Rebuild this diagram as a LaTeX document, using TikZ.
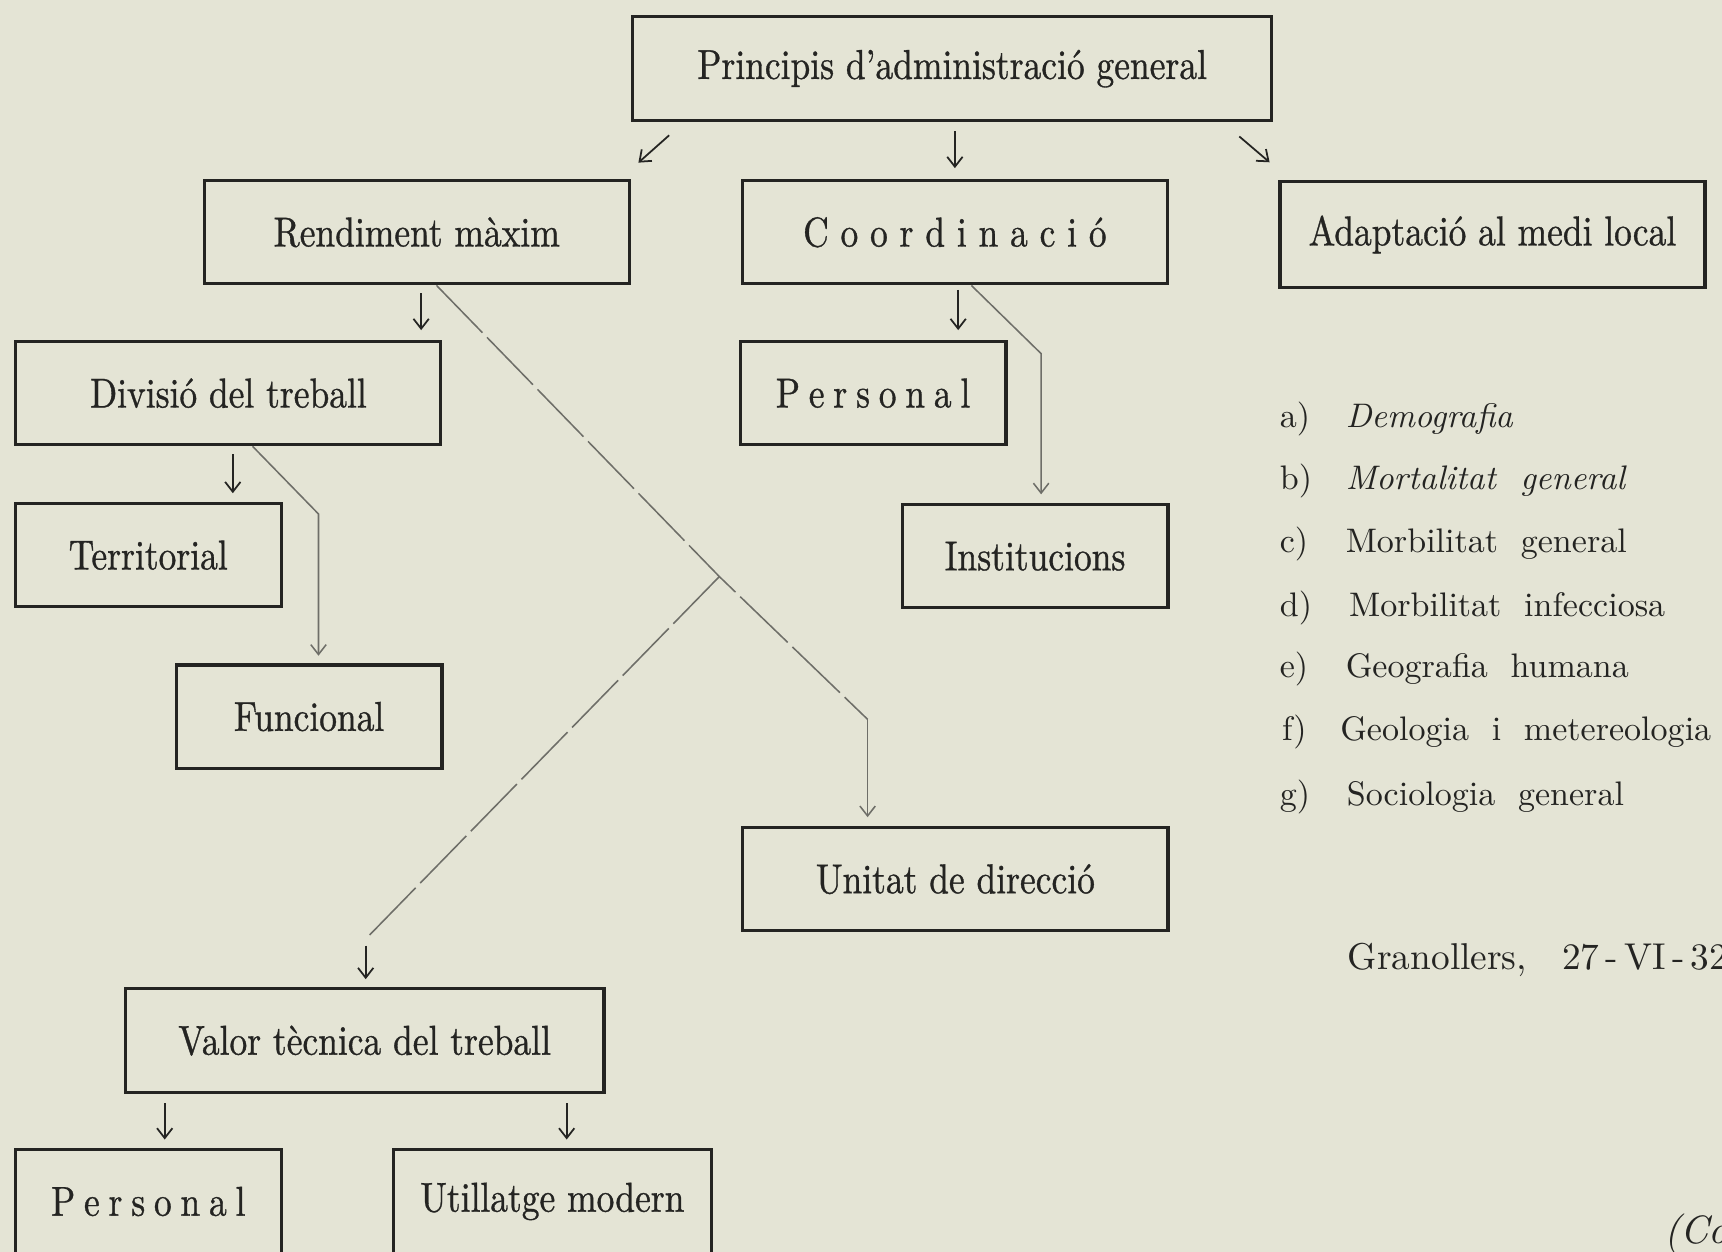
\documentclass[tikz,border=0pt]{standalone}
\usepackage{fontspec}
\usepackage{tikz}
\usetikzlibrary{arrows.meta}
\newfontfamily\boxfont{lmroman10}[Extension=.otf, UprightFont=*-regular, Ligatures=TeX, FakeStretch=0.85, FakeBold=0.8]
\newfontfamily\listfont{lmroman10}[Extension=.otf, UprightFont=*-regular, ItalicFont=*-italic, Ligatures=TeX]
\definecolor{paper}{RGB}{228,228,213}
\definecolor{ink}{RGB}{36,36,34}
\definecolor{trace}{RGB}{110,110,104}
\tikzstyle{bx} = [draw=ink, line width=1.4pt, inner sep=0pt, text=ink, font=\boxfont\fontsize{19}{22}\selectfont]
\tikzstyle{bxw} = [bx, minimum width=193.5pt, minimum height=47pt]
\tikzstyle{bxn} = [bx, minimum width=121pt, minimum height=47pt]
\tikzstyle{lst} = [anchor=base west, inner sep=0pt, text=ink, font=\listfont\fontsize{15.5}{18}\selectfont]
\tikzstyle{ar} = [ink, line width=0.8pt, ->]
\tikzstyle{tr} = [trace, line width=0.7pt]
\tikzstyle{trd} = [tr, dash pattern=on 30pt off 3pt]

\begin{document}
\begin{tikzpicture}[x=0.5pt, y=-0.5pt, >={Straight Barb[length=4.5pt,width=7pt]}]
    \fill[paper] (0,0) rectangle (1568,1140);
    \clip (0,0) rectangle (1568,1140);
    % boxes
    \node (princ) [bx, minimum width=291pt, minimum height=47.5pt] at (867,62.5) {Principis d'administració general};
    \node (rend) [bxw] at (379.5,211.5) {Rendiment màxim};
    \node (coord) [bxw] at (869.5,211.5) {C o o r d i n a c i ó};
    \node (adapt) [bxw, minimum height=48.5pt] at (1359,213.5) {Adaptació al medi local};
    \node (divis) [bxw] at (208,358) {Divisió del treball};
    \node (pers1) [bxn] at (795,358) {\spaceskip=4pt P e r s o n a l};
    \node (territ) [bxn] at (135,505.5) {Territorial};
    \node (instit) [bxn] at (942.5,506.5) {Institucions};
    \node (funcio) [bxn] at (281.5,652.5) {Funcional};
    \node (unitat) [bxw] at (870,800.5) {Unitat de direcció};
    \node (valor) [bx, minimum width=218pt, minimum height=47.5pt] at (332,947.5) {Valor tècnica del treball};
    \node (pers2) [bxn] at (135,1094) {\spaceskip=4pt P e r s o n a l};
    \node (utill) [bx, minimum width=145pt, minimum height=47pt] at (503,1094) {Utillatge modern};
    % bends of the traced lines
    \coordinate (jn) at (655,525);
    \coordinate (kn) at (790,655);
    \coordinate (ln) at (333,855);
    \coordinate (mn) at (290,468);
    \coordinate (nn) at (948,322);
    % arrows
    \draw[ar, shorten <=8.9pt, shorten >=11.3pt] ([xshift=24pt]princ.south west) -- ([xshift=-5pt]rend.north east);
    \draw[ar, shorten <=4pt, shorten >=5pt] (princ.south -| coord.north) -- (coord.north);
    \draw[ar, shorten <=9.9pt, shorten >=12.2pt] ([xshift=-23pt]princ.south east) -- ([xshift=5.25pt]adapt.north west);
    \draw[ar, shorten <=3.5pt, shorten >=4.5pt] ([xshift=2pt]rend.south) -- ([xshift=2pt]rend.south |- divis.north);
    \draw[ar, shorten <=2pt, shorten >=4.5pt] ([xshift=1.5pt]coord.south) -- ([xshift=1.5pt]coord.south |- pers1.north);
    \draw[ar, shorten <=3.5pt, shorten >=4pt] ([xshift=2pt]divis.south) -- ([xshift=2pt]divis.south |- territ.north);
    \draw[ar, shorten <=4pt, shorten >=4pt] ([xshift=7.5pt]pers2.north |- valor.south) -- ([xshift=7.5pt]pers2.north);
    \draw[ar, shorten <=4pt, shorten >=4pt] ([xshift=6.5pt]utill.north |- valor.south) -- ([xshift=6.5pt]utill.north);
    % traced lines
    \draw[trd] ([xshift=9pt]rend.south) -- (jn) -- (kn);
    \draw[tr, ->, shorten >=4pt] (kn) -- (kn |- unitat.north);
    \draw[trd] (jn) -- (ln);
    \draw[ar, shorten <=3pt, shorten >=3.5pt] (ln) -- (ln |- valor.north);
    \draw[tr, ->, shorten >=3.5pt] ([xshift=11pt]divis.south) -- (mn) -- (mn |- funcio.north);
    \draw[tr, ->, shorten >=4pt] ([xshift=7.5pt]coord.south) -- (nn) -- (nn |- instit.north);
    % list
    \node (ia) [lst] at (1165,389) {\makebox[30pt][l]{a)}\textit{Demografia}};
    \node (ib) [lst] at (1165,446) {\makebox[30pt][l]{b)}\textit{Mortalitat\ \ general}};
    \node (ic) [lst] at (1165,503) {\makebox[30pt][l]{c)}Morbilitat\ \ general};
    \node (id) [lst] at (1165,561) {\makebox[31.5pt][l]{d)}Morbilitat\ \ infecciosa};
    \node (ie) [lst] at (1165,617) {\makebox[30pt][l]{e)}Geografia\ \ humana};
    \node (if) [lst] at (1167,674) {\makebox[26.5pt][l]{f)}Geologia\ \ i\ \ metereologia};
    \node (ig) [lst] at (1165,733) {\makebox[30.5pt][l]{g)}Sociologia\ \ general};
    \node (place) [lst, font=\listfont\fontsize{17}{20}\selectfont] at (1227,883) {Granollers,\hspace{16pt}27\,-\,VI\,-\,32};
    \node (cont) [lst, font=\listfont\fontsize{18}{21}\selectfont\itshape] at (1515,1132) {(Co};
\end{tikzpicture}
\end{document}
